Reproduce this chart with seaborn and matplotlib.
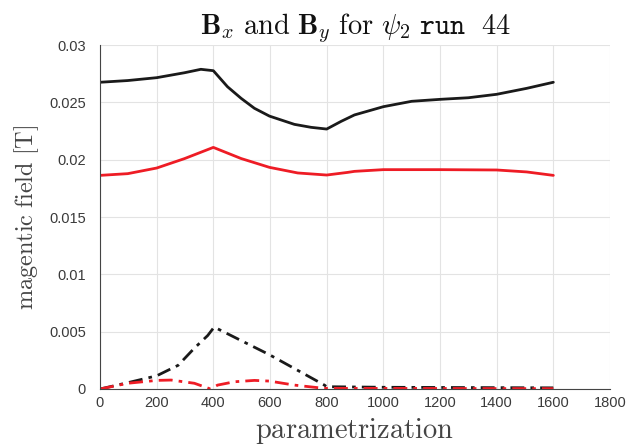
import matplotlib
matplotlib.use("Agg")
import matplotlib.pyplot as plt
import seaborn as sns
from matplotlib.ticker import FuncFormatter

# Data
bx_x = [0, 98, 200, 298, 356, 400, 450, 498, 545, 598, 686, 745, 800,
        851, 898, 1000, 1100, 1200, 1300, 1400, 1506, 1600]
bx_y = [0.02675, 0.0269, 0.02715, 0.02758, 0.02788, 0.02776, 0.02636, 0.02535, 0.02448, 0.0238,
        0.02308, 0.02282, 0.02267, 0.02334, 0.0239, 0.02462, 0.02509, 0.02526, 0.0254, 0.0257,
        0.02622, 0.02675]

by_x = [0, 98, 200, 298, 400, 498, 598, 698, 800, 874, 898, 1000, 1200, 1400, 1506, 1600]
by_y = [0.01863, 0.01878, 0.01927, 0.02009, 0.02107, 0.0201, 0.01933, 0.01884, 0.01866, 0.01889,
        0.01898, 0.01913, 0.01913, 0.0191, 0.01893, 0.01863]

bx2_x = [0, 98, 200, 276, 333, 380, 403, 598, 792, 800, 1000, 1600]
bx2_y = [0.0, 0.00055, 0.00115, 0.00207, 0.00356, 0.00466, 0.0054, 0.00299, 0.00034, 0.0002,
         0.00015, 0.0001]

by2_x = [0, 98, 200, 251, 333, 390, 415, 474, 545, 598, 686, 790, 1600]
by2_y = [0.0, 0.0005, 0.00075, 0.00078, 0.0005, 0.0, 0.00034, 0.00063, 0.00075, 0.00069,
         0.00034, 0.00006, 0.00003]

x_ticks = [0, 200, 400, 600, 800, 1000, 1200, 1400, 1600, 1800]
y_ticks = [0, 0.005, 0.01, 0.015, 0.02, 0.025, 0.03]

sns.set_style("white")
plt.rcParams['mathtext.fontset'] = 'cm'
plt.rcParams['font.family'] = ['Liberation Sans', 'DejaVu Sans']

fig = plt.figure(figsize=(6.35, 4.47), dpi=100)
ax = fig.add_axes([100 / 635, 1 - 389 / 447, 510 / 635, 344 / 447])

black = '#1a1a1a'
red = '#ee1c25'
dd = (5, 2.2, 1.3, 2.2)

sns.lineplot(x=bx_x, y=bx_y, ax=ax, color=black, linewidth=2.0)
sns.lineplot(x=by_x, y=by_y, ax=ax, color=red, linewidth=2.0)
sns.lineplot(x=bx2_x, y=bx2_y, ax=ax, color=black, linewidth=2.0)
ax.lines[-1].set_dashes(dd)
sns.lineplot(x=by2_x, y=by2_y, ax=ax, color=red, linewidth=2.0)
ax.lines[-1].set_dashes(dd)
for ln in ax.lines:
    ln.set_solid_joinstyle('round')
    ln.set_dash_capstyle('butt')

ax.set_xlim(0, 1800)
ax.set_ylim(0, 0.03)
ax.set_xticks(x_ticks)
ax.set_yticks(y_ticks)
ax.yaxis.set_major_formatter(FuncFormatter(lambda v, p: '%g' % v))
ax.grid(True, color='#e3e3e3', linewidth=0.8)
ax.set_axisbelow(True)
for s in ['top', 'right']:
    ax.spines[s].set_visible(False)
for s in ['left', 'bottom']:
    ax.spines[s].set_color('#444444')
    ax.spines[s].set_linewidth(0.8)
ax.tick_params(direction='in', length=4, width=0.8, colors='#444444', labelsize=10.5,
               labelcolor='#3a3a3a')
ax.tick_params(axis='y', pad=10)
ax.tick_params(axis='x', pad=5)

ax.set_xlabel(r'$\mathrm{parametrization}$', fontsize=20.5, color='#444444', labelpad=4)
ax.set_ylabel(r'$\mathrm{magentic\ field\ [T]}$', fontsize=17.5, color='#444444', labelpad=6)
ax.set_title(r'$\mathbf{B}_x\ \mathrm{and}\ \mathbf{B}_y\ \mathrm{for}\ \psi_2\ \mathtt{run}\ \ \mathtt{44}$',
             fontsize=20.5, color='#111111', pad=8)

fig.savefig('out.png', dpi=100)
